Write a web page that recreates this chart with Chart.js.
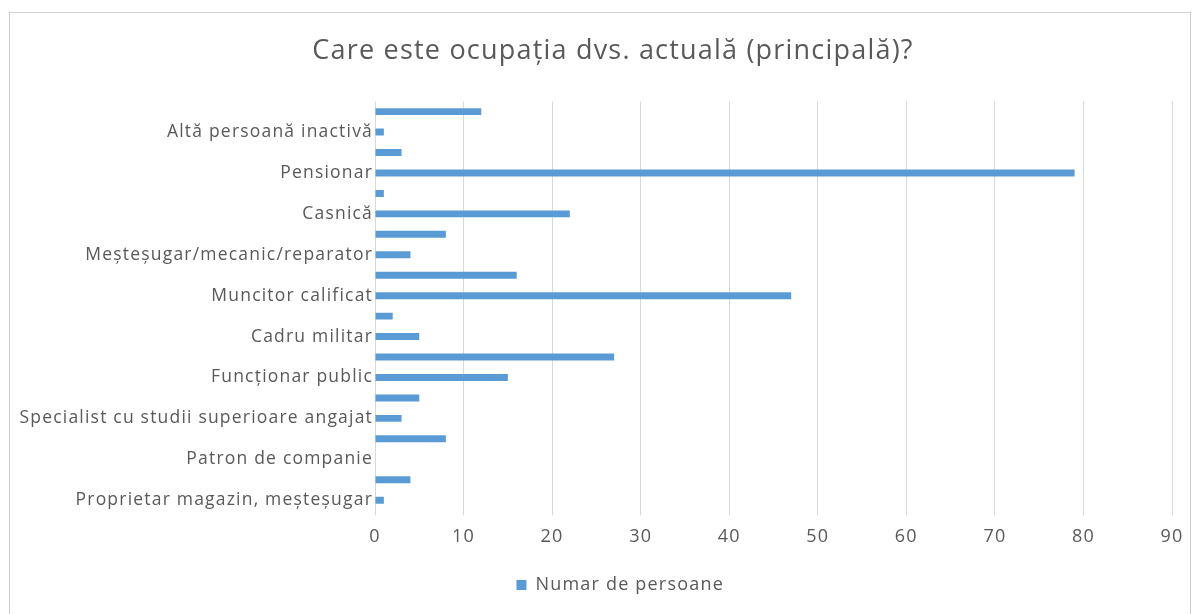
<!DOCTYPE html>
<html>
<head>
    <title>Care este ocupatia dvs. actuala</title>
    <script src="https://cdn.jsdelivr.net/npm/chart.js@4.4.0/dist/chart.umd.min.js"></script>
    <style>
        body { margin: 0; background: #fff; }
    </style>
</head>
<body>
<div>
    <canvas id="barChartCanvas" width="1197" height="614"></canvas>
</div>
<script>

// categories listed as in the sheet (bottom to top); Excel only printed every other label
const categories = [
    'Proprietar magazin, meșteșugar', '',
    'Patron de companie', '',
    'Specialist cu studii superioare angajat', '',
    'Funcționar public', '',
    'Cadru militar', '',
    'Muncitor calificat', '',
    'Meșteșugar/mecanic/reparator', '',
    'Casnică', '',
    'Pensionar', '',
    'Altă persoană inactivă', ''
];
const numarPersoane = [1, 4, 0, 8, 3, 5, 15, 27, 5, 2, 47, 16, 4, 8, 22, 1, 79, 3, 1, 12];
const xTicks = [0, 10, 20, 30, 40, 50, 60, 70, 80, 90];

const textColor = '#595959';
const barColor = '#5b9bd5';
const gridColor = '#d9d9d9';

// light gray frame around the chart, like the Excel chart area
// also spreads the letters a bit, Excel text is wider than ours
const frame = {
    id: 'frame',
    afterLayout(chart) {
        // Excel centres title and legend on the whole frame, not on the plot side
        chart.titleBlock.left += 44;
        chart.legend.left += 38;
    },
    beforeDraw(chart) {
        const ctx = chart.ctx;
        ctx.save();
        ctx.fillStyle = '#fff';
        ctx.fillRect(0, 0, chart.width, chart.height);
        ctx.strokeStyle = '#d0d0d0';
        ctx.lineWidth = 1;
        ctx.strokeRect(9.5, 12.5, 1181, 640);
        ctx.restore();
        ctx.letterSpacing = '1.2px';
    }
};

const barCtx = document.getElementById('barChartCanvas').getContext('2d');

new Chart(barCtx, {
    type: 'bar',
    data: {
        labels: categories,
        datasets: [{
            label: 'Numar de persoane',
            data: numarPersoane,
            backgroundColor: barColor,
            categoryPercentage: 1,
            barPercentage: 0.34
        }]
    },
    options: {
        indexAxis: 'y',
        responsive: false,
        animation: false,
        layout: { padding: { left: 10, right: 25, top: 0, bottom: 10 } },
        scales: {
            x: {
                min: 0,
                max: 90,
                afterBuildTicks(scale) {
                    scale.ticks = xTicks.map(v => ({ value: v }));
                },
                grid: { color: gridColor, tickLength: 5, tickColor: gridColor },
                border: { display: false },
                ticks: {
                    color: textColor,
                    padding: 11,
                    font: { family: 'Open Sans', size: 18 }
                }
            },
            y: {
                reverse: true,
                afterFit(scale) { scale.width = 365; },
                grid: { display: false },
                border: { display: false },
                ticks: {
                    color: textColor,
                    padding: -6,
                    autoSkip: false,
                    font: { family: 'Open Sans', size: 17.5 }
                }
            }
        },
        plugins: {
            title: {
                display: true,
                text: 'Care este ocupația dvs. actuală (principală)?',
                color: textColor,
                font: { family: 'Open Sans', size: 27, weight: 'normal' },
                padding: { top: 35, bottom: 34 }
            },
            legend: {
                position: 'bottom',
                labels: {
                    color: textColor,
                    boxWidth: 10,
                    boxHeight: 10,
                    padding: 17,
                    font: { family: 'Open Sans', size: 18 }
                }
            },
            tooltip: { enabled: false }
        }
    },
    plugins: [frame]
});

</script>
</body>
</html>
